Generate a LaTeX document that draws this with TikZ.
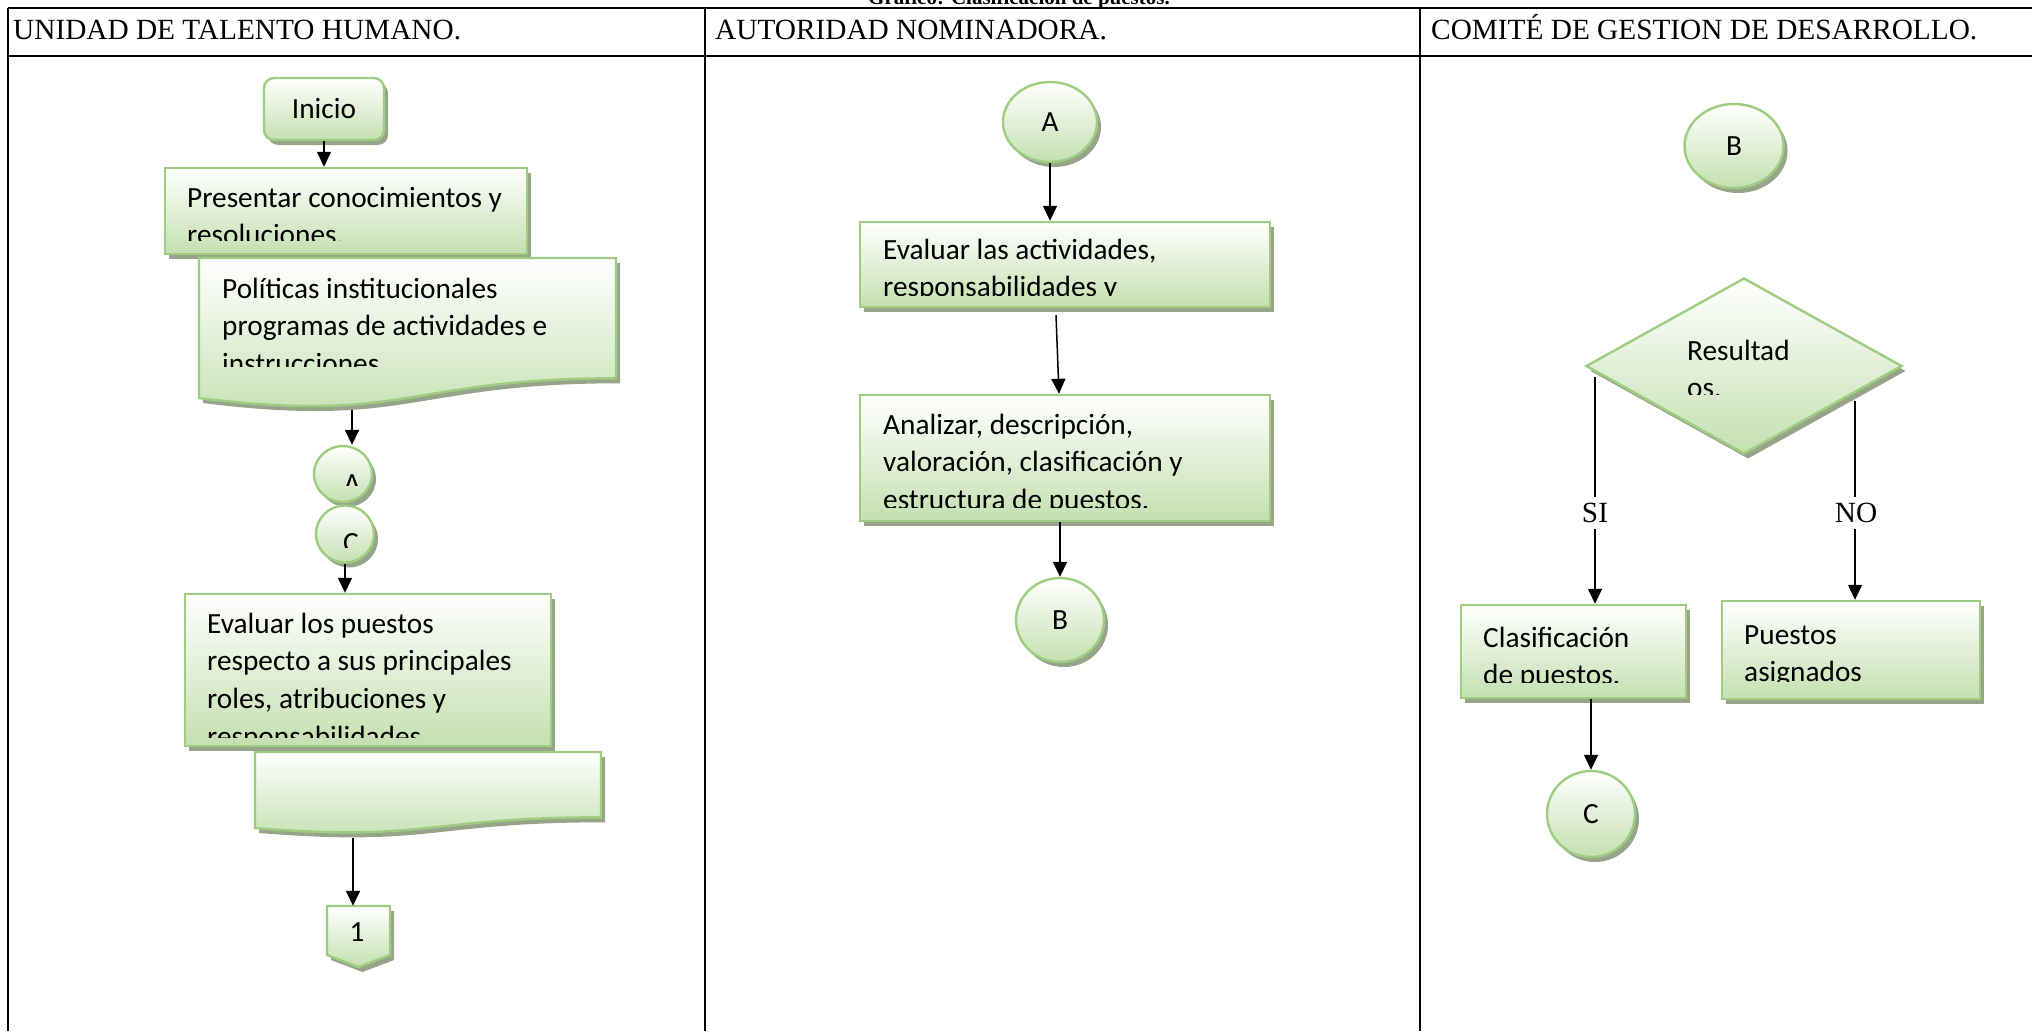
\documentclass[tikz,border=0pt]{standalone}
\usepackage{fontspec}
\setmainfont{Liberation Serif}
\newfontfamily\calibfam{Carlito}
\usetikzlibrary{shapes.geometric,shadows,arrows.meta}
\definecolor{gborder}{RGB}{158,204,128}
\definecolor{gfill}{RGB}{196,224,176}
\definecolor{gshadow}{RGB}{152,164,138}
\newcommand\boxfont{\calibfam\fontsize{29.3}{37.8}\selectfont}
\newcommand\headfont{\fontsize{29.3}{33}\selectfont}
\newcommand\cliptxt[5]{\begin{scope}\clip (#2) rectangle (#3);\node[txt] (#1) at (#4) {\begin{tabular}[t]{@{}l@{}}#5\end{tabular}};\end{scope}}
\tikzset{
  flow/.style={draw=gborder, line width=2.4pt, top color=white, bottom color=gfill,
    drop shadow={shadow xshift=4pt, shadow yshift=-5pt, fill=gshadow, opacity=1}},
  box/.style={flow, rectangle, inner sep=0pt},
  oval/.style={flow, ellipse, inner sep=0pt, font=\boxfont},
  txt/.style={anchor=base west, inner sep=0pt, font=\boxfont},
  arr/.style={line width=1.5pt, -{Triangle[length=15pt,width=14pt]}},
  tbl/.style={line width=1.8pt},
  lbl/.style={font=\headfont, inner sep=6pt},
  hdr/.style={font=\headfont, anchor=base west, inner sep=0pt},
}
\begin{document}
\begin{tikzpicture}[x=1pt,y=-1pt]
\clip (0,0) rectangle (2032,1031);
% title and table
\node[anchor=base, inner sep=0pt, font=\bfseries\fontsize{21}{23}\selectfont] (title) at (1019,4) {Gráfico: Clasificación de puestos.};
\draw[tbl] (8,8) -- (2032,8);
\draw[tbl] (8,56) -- (2032,56);
\draw[tbl] (8,8) -- (8,1031);
\draw[tbl] (705,8) -- (705,1031);
\draw[tbl] (1420,8) -- (1420,1031);
\node[hdr] (h1) at (13,39) {UNIDAD DE TALENTO HUMANO.};
\node[hdr] (h2) at (715,39) {AUTORIDAD NOMINADORA.};
\node[hdr] (h3) at (1431,39) {COMITÉ DE GESTION DE DESARROLLO.};

% ---------- column 1
\node[box, rounded corners=10pt, minimum width=120pt, minimum height=62pt, font=\boxfont] (inicio) at (324,109) {Inicio};
\node[box, minimum width=362pt, minimum height=86pt] (pres) at (346,211) {};
\cliptxt{tpres}{167,170}{525,240}{187,207}{Presentar conocimientos y\\ resoluciones.}
\node[inner sep=0pt, minimum width=417pt, minimum height=150pt] (doc1) at (407.5,333) {};
\path[flow] (199,258) -- (616,258) -- (616,378.3) .. controls (407.5,378.3) and (407.5,424) .. (199,398.1) -- cycle;
\cliptxt{tpol}{201,260}{614,366}{222,298}{Políticas institucionales\\ programas de actividades e\\ instrucciones.}
\coordinate (d1out) at (352,410);
\node[oval, minimum width=58pt, minimum height=56pt] (cA1) at (343,474) {};
\begin{scope}\clip (316,440) rectangle (372,485);
\node[font=\boxfont, anchor=base, inner sep=0pt] (tA1) at (352,493) {A};
\end{scope}
\node[oval, minimum width=58pt, minimum height=57pt] (cC1) at (345,534) {};
\begin{scope}\clip (316,505) rectangle (372,547);
\node[font=\boxfont, anchor=base, inner sep=0pt] (tC1) at (351,552) {C};
\end{scope}
\node[box, minimum width=366pt, minimum height=152pt] (ev1) at (368,670) {};
\cliptxt{tev1}{187,596}{549,737}{207,633}{Evaluar los puestos\\ respecto a sus principales\\ roles, atribuciones y\\ responsabilidades.}
\node[inner sep=0pt, minimum width=346pt, minimum height=81pt] (doc2) at (428,792.5) {};
\path[flow] (255,752) -- (601,752) -- (601,817.3) .. controls (428,817.3) and (428,842.1) .. (255,828) -- cycle;
\coordinate (d2out) at (353,838);
\node[inner sep=0pt, minimum width=63pt, minimum height=61pt, font=\boxfont] (pent) at (358.5,936.5) {};
\path[flow] (327,906) -- (390,906) -- (390,955) -- (358.5,967) -- (327,955) -- cycle;
\node[font=\boxfont, inner sep=0pt] (tone) at (357,932) {1};

\draw[arr] (inicio.south) -- (inicio.south |- pres.north);
\draw[arr] (d1out) -- (d1out |- cA1.north);
\draw[arr] (cC1.south) -- (cC1.south |- ev1.north);
\draw[arr] (d2out) -- (d2out |- pent.north);

% ---------- column 2
\node[oval, minimum width=94pt, minimum height=80pt] (cA2) at (1050,122) {A};
\node[box, minimum width=410pt, minimum height=85pt] (ev2) at (1065,264.5) {};
\cliptxt{tev2}{862,224}{1268,295}{883,259}{Evaluar las actividades,\\ responsabilidades y}
\node[box, minimum width=410pt, minimum height=126pt] (an2) at (1065,458) {};
\cliptxt{tan2}{862,397}{1268,507}{883,434}{Analizar, descripción,\\ valoración, clasificación y\\ estructura de puestos.}
\node[oval, minimum width=88pt, minimum height=84pt] (cB2) at (1060,620) {B};

\draw[arr] (cA2.south) -- (cA2.south |- ev2.north);
\draw[arr] ([shift={(-9,7)}]ev2.south) -- ([xshift=-6pt]an2.north);
\draw[arr] (cB2.north |- an2.south) -- (cB2.north);

% ---------- column 3
\node[oval, minimum width=99pt, minimum height=84pt] (cB3) at (1734,146) {B};
\node[flow, diamond, inner sep=0pt, minimum width=316pt, minimum height=176pt] (dia) at (1744,366) {};
\cliptxt{tdia}{1660,300}{1830,394}{1687,360}{Resultad\\ os.}
\node[box, minimum width=225pt, minimum height=93pt] (clas) at (1573.5,651.5) {};
\cliptxt{tclas}{1463,607}{1684,682}{1483,647}{Clasificación\\ de puestos.}
\node[box, minimum width=258pt, minimum height=98pt] (pue) at (1851,650) {};
\cliptxt{tpue}{1724,603}{1978,681}{1744,644}{Puestos\\ asignados}
\node[oval, minimum width=88pt, minimum height=86pt] (cC3) at (1591,814) {C};

\node[lbl] (si) at (1595,513) {SI};
\node[lbl] (no) at (1856,513) {NO};
\coordinate (sistart) at (1595,377);
\coordinate (nostart) at (1855,401);
\draw[line width=1.5pt] (sistart) -- (si.north);
\draw[arr] (si.south) -- (si.south |- clas.north);
\draw[line width=1.5pt] (nostart) -- (nostart |- no.north);
\draw[arr] (nostart |- no.south) -- (nostart |- pue.north);
\draw[arr] (cC3.north |- clas.south) -- (cC3.north);
\end{tikzpicture}
\end{document}
